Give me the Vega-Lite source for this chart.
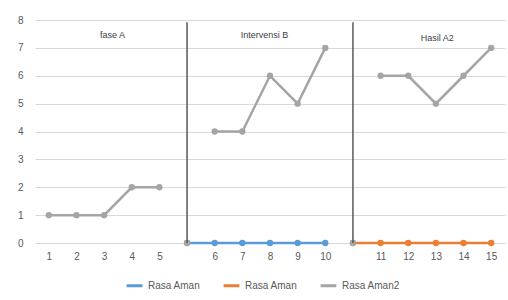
{
  "$schema": "https://vega.github.io/schema/vega-lite/v6.json",
  "width": 470,
  "height": 223,
  "autosize": {"type": "none"},
  "padding": {"left": 35, "top": 20, "right": 3, "bottom": 57},
  "config": {"font": "Liberation Sans", "view": {"stroke": null}},
  "datasets": {
    "series": [
      {"slot": 6, "value": 0, "series": "s1", "seg": "b"},
      {"slot": 7, "value": 0, "series": "s1", "seg": "b"},
      {"slot": 8, "value": 0, "series": "s1", "seg": "b"},
      {"slot": 9, "value": 0, "series": "s1", "seg": "b"},
      {"slot": 10, "value": 0, "series": "s1", "seg": "b"},
      {"slot": 11, "value": 0, "series": "s1", "seg": "b"},
      {"slot": 12, "value": 0, "series": "s2", "seg": "o"},
      {"slot": 13, "value": 0, "series": "s2", "seg": "o"},
      {"slot": 14, "value": 0, "series": "s2", "seg": "o"},
      {"slot": 15, "value": 0, "series": "s2", "seg": "o"},
      {"slot": 16, "value": 0, "series": "s2", "seg": "o"},
      {"slot": 17, "value": 0, "series": "s2", "seg": "o"},
      {"slot": 1, "value": 1, "series": "s3", "seg": "g1"},
      {"slot": 2, "value": 1, "series": "s3", "seg": "g1"},
      {"slot": 3, "value": 1, "series": "s3", "seg": "g1"},
      {"slot": 4, "value": 2, "series": "s3", "seg": "g1"},
      {"slot": 5, "value": 2, "series": "s3", "seg": "g1"},
      {"slot": 6, "value": 0, "series": "s3", "seg": "g2"},
      {"slot": 7, "value": 4, "series": "s3", "seg": "g3"},
      {"slot": 8, "value": 4, "series": "s3", "seg": "g3"},
      {"slot": 9, "value": 6, "series": "s3", "seg": "g3"},
      {"slot": 10, "value": 5, "series": "s3", "seg": "g3"},
      {"slot": 11, "value": 7, "series": "s3", "seg": "g3"},
      {"slot": 12, "value": 0, "series": "s3", "seg": "g4"},
      {"slot": 13, "value": 6, "series": "s3", "seg": "g5"},
      {"slot": 14, "value": 6, "series": "s3", "seg": "g5"},
      {"slot": 15, "value": 5, "series": "s3", "seg": "g5"},
      {"slot": 16, "value": 6, "series": "s3", "seg": "g5"},
      {"slot": 17, "value": 7, "series": "s3", "seg": "g5"}
    ],
    "phases": [
      {"slot": 6, "value": 0, "y1": 7.92},
      {"slot": 12, "value": 0, "y1": 7.92}
    ],
    "labels": [
      {"slot": 3.3, "value": 7.45, "text": "fase A"},
      {"slot": 8.8, "value": 7.45, "text": "Intervensi B"},
      {"slot": 15.05, "value": 7.35, "text": "Hasil A2"}
    ]
  },
  "encoding": {
    "x": {
      "field": "slot", "type": "quantitative",
      "scale": {"domain": [0.5, 17.5], "nice": false, "zero": false},
      "axis": {
        "values": [1, 2, 3, 4, 5, 6, 7, 8, 9, 10, 11, 12, 13, 14, 15, 16, 17],
        "labelExpr": "datum.value == 6 || datum.value == 12 ? '' : (datum.value < 6 ? datum.value : (datum.value < 12 ? datum.value - 1 : datum.value - 2))",
        "labelOverlap": false,
        "grid": false, "domain": false, "ticks": false, "title": null,
        "labelColor": "#595959", "labelFontSize": 10, "labelPadding": 8
      }
    },
    "y": {
      "field": "value", "type": "quantitative",
      "scale": {"domain": [0, 8], "nice": false},
      "axis": {
        "values": [0, 1, 2, 3, 4, 5, 6, 7, 8],
        "labelOverlap": false,
        "grid": true, "gridColor": "#d9d9d9", "domain": false, "ticks": false,
        "title": null, "labelColor": "#595959", "labelFontSize": 10, "labelPadding": 12
      }
    }
  },
  "layer": [
    {
      "data": {"name": "series"},
      "mark": {"type": "line", "strokeWidth": 2.5},
      "encoding": {
        "color": {
          "field": "series", "type": "nominal",
          "scale": {"domain": ["s1", "s2", "s3"], "range": ["#5B9BD5", "#ED7D31", "#A5A5A5"]},
          "legend": {
            "orient": "none", "legendX": 90, "legendY": 256, "direction": "horizontal",
            "title": null, "symbolType": "stroke", "symbolStrokeWidth": 3, "symbolSize": 250,
            "labelExpr": "datum.value == 's3' ? 'Rasa Aman2' : 'Rasa Aman'",
            "labelColor": "#595959", "labelFontSize": 10, "columnPadding": 16
          }
        },
        "detail": {"field": "seg"}
      }
    },
    {
      "data": {"name": "series"},
      "mark": {"type": "point", "filled": true, "size": 40, "opacity": 1},
      "encoding": {
        "color": {"field": "series", "type": "nominal", "legend": null}
      }
    },
    {
      "data": {"name": "phases"},
      "mark": {"type": "rule", "color": "#595959", "strokeWidth": 1.5},
      "encoding": {
        "y2": {"field": "y1"}
      }
    },
    {
      "data": {"name": "labels"},
      "mark": {"type": "text", "fontSize": 9, "color": "#404040"},
      "encoding": {
        "text": {"field": "text"}
      }
    }
  ]
}
